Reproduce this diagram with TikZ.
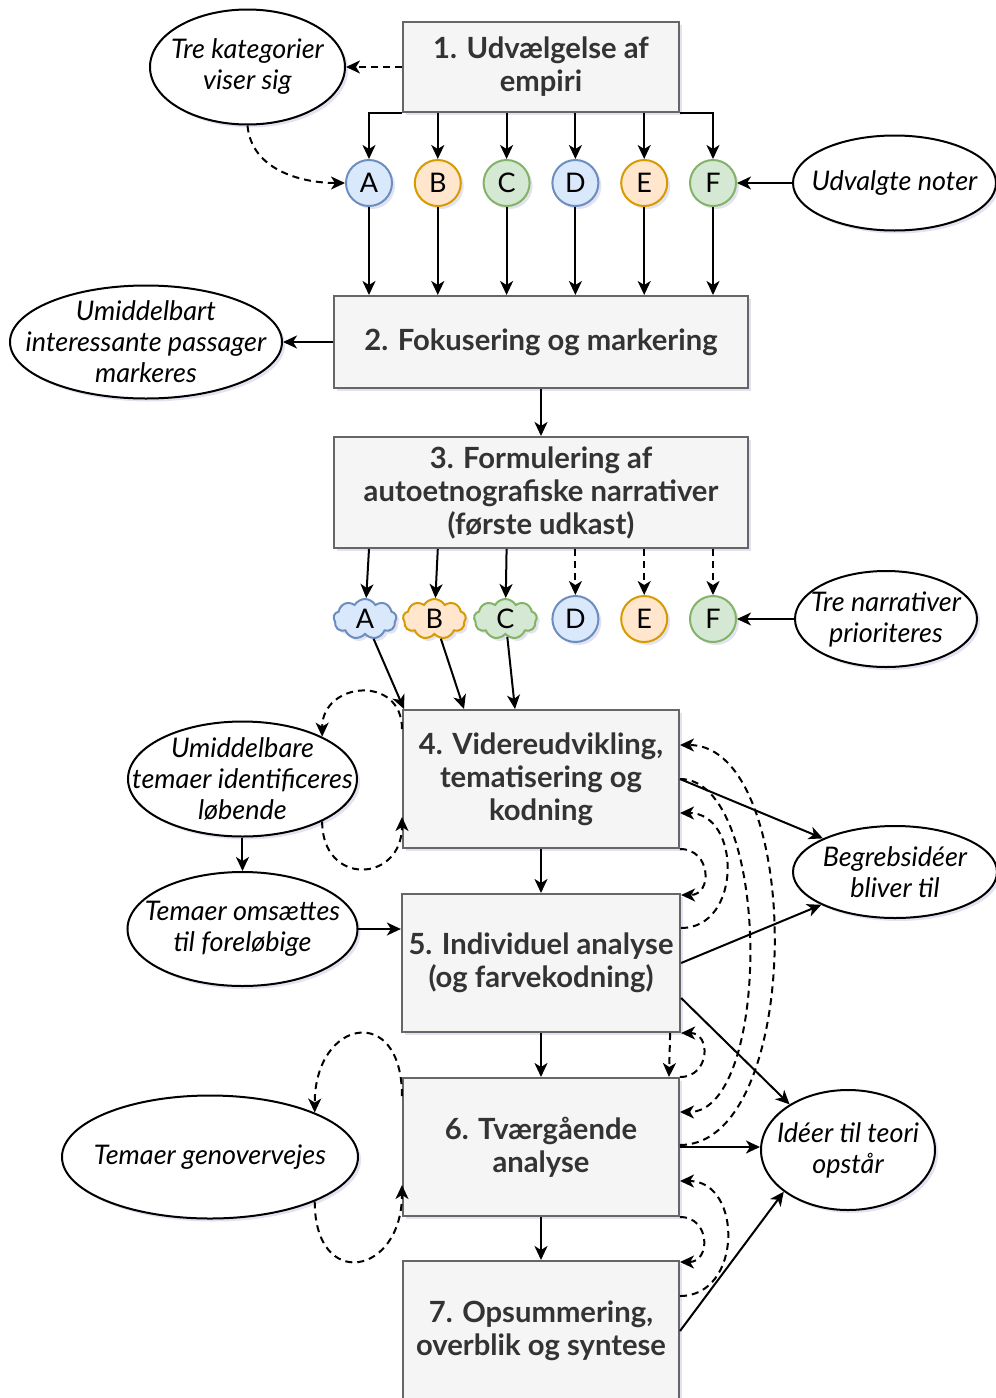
\documentclass[tikz,border=0pt]{standalone}
\usepackage{fontspec}
\setmainfont{Lato}
\usetikzlibrary{shapes, shapes.symbols, arrows.meta, shadows}

\definecolor{boxfill}{HTML}{F5F5F5}
\definecolor{boxline}{HTML}{666666}
\definecolor{boxtext}{HTML}{333333}
\definecolor{bluefill}{HTML}{DAE8FC}
\definecolor{blueline}{HTML}{6C8EBF}
\definecolor{orangefill}{HTML}{FFE6CC}
\definecolor{orangeline}{HTML}{D79B00}
\definecolor{greenfill}{HTML}{D5E8D4}
\definecolor{greenline}{HTML}{82B366}
\definecolor{shadowc}{HTML}{A0A0D0}

\begin{document}
\begin{tikzpicture}[node distance=92pt]
        \tikzstyle{softshadow} = [drop shadow={shadow xshift=1.5pt, shadow yshift=-1.5pt, fill=shadowc, opacity=0.3}]
        \tikzstyle{stepbox} = [rectangle, minimum width=138pt, minimum height=69pt, text centered, align=center, draw=boxline, line width=1pt, fill=boxfill, text=boxtext, font=\fontsize{14.6}{16.5}\selectfont\bfseries, softshadow]
        \tikzstyle{widebox} = [stepbox, minimum width=206.5pt]
        \tikzstyle{note} = [ellipse, inner xsep=-20pt, inner ysep=-12pt, text centered, align=center, draw=black, line width=1pt, fill=white, font=\fontsize{13.5}{15.5}\selectfont\itshape, softshadow]
        \tikzstyle{dot} = [circle, minimum size=23pt, inner sep=0pt, line width=1pt, font=\fontsize{13.5}{15}\selectfont, softshadow]
        \tikzstyle{bluedot} = [dot, draw=blueline, fill=bluefill]
        \tikzstyle{orangedot} = [dot, draw=orangeline, fill=orangefill]
        \tikzstyle{greendot} = [dot, draw=greenline, fill=greenfill]
        \tikzstyle{puff} = [cloud, cloud puffs=9, cloud puff arc=120, aspect=1.6, minimum width=31.5pt, minimum height=20pt, inner sep=0pt, line width=1pt, font=\fontsize{13.5}{15}\selectfont, softshadow]
        \tikzstyle{bluepuff} = [puff, draw=blueline, fill=bluefill]
        \tikzstyle{orangepuff} = [puff, draw=orangeline, fill=orangefill]
        \tikzstyle{greenpuff} = [puff, draw=greenline, fill=greenfill]
        \tikzstyle{singlearrow} = [line width=1pt, ->, >={Stealth[length=7pt, width=6.5pt, inset=2pt]}]
        \tikzstyle{dasharrow} = [singlearrow, dash pattern=on 3.5pt off 2.5pt]

        \useasboundingbox (-270.5pt,33.5pt) rectangle (227.5pt,-665.5pt);

        % main column
        \node (udv) [stepbox, minimum height=45pt]{1. Udvælgelse af\\empiri};
        \node (fok) [widebox, minimum height=46pt, below of=udv, yshift=-45.5pt]{2. Fokusering og markering};
        \node (form) [widebox, minimum height=55.5pt, below of=fok, yshift=16.75pt]{3. Formulering af\\autoetnografiske narrativer\\(første udkast)};
        \node (vid) [stepbox, below of=form, yshift=-51.25pt]{4. Videreudvikling,\\tematisering og\\kodning};
        \node (ind) [stepbox, below of=vid]{5. Individuel analyse\\(og farvekodning)};
        \node (tvg) [stepbox, below of=ind]{6. Tværgående\\analyse};
        \node (ops) [stepbox, minimum height=70pt, below of=tvg]{7. Opsummering,\\overblik og syntese};

        % selected notes
        \node (A1) [bluedot, below of=udv, xshift=-86pt, yshift=34pt]{A};
        \node (B1) [orangedot, node distance=34.4pt, right of=A1]{B};
        \node (C1) [greendot, node distance=34.4pt, right of=B1]{C};
        \node (D1) [bluedot, node distance=34.4pt, right of=C1]{D};
        \node (E1) [orangedot, node distance=34.4pt, right of=D1]{E};
        \node (F1) [greendot, node distance=34.4pt, right of=E1]{F};

        % narratives
        \node (A2) [bluepuff, below of=form, xshift=-88pt, yshift=28.75pt]{A};
        \node (B2) [orangepuff, node distance=34.7pt, right of=A2]{B};
        \node (C2) [greenpuff, node distance=35.5pt, right of=B2]{C};
        \node (D2) [bluedot, node distance=35pt, right of=C2]{D};
        \node (E2) [orangedot, node distance=34.4pt, right of=D2]{E};
        \node (F2) [greendot, node distance=34.4pt, right of=E2]{F};

        % comments
        \node (kat) [note, minimum width=97.5pt, minimum height=57.5pt, node distance=146.75pt, left of=udv]{Tre kategorier\\viser sig};
        \node (noter) [note, minimum width=101.5pt, minimum height=47.5pt, node distance=90.75pt, right of=F1]{Udvalgte noter};
        \node (pass) [note, minimum width=136pt, minimum height=56.5pt, node distance=197.5pt, left of=fok]{Umiddelbart\\interessante passager\\markeres};
        \node (prio) [note, minimum width=91pt, minimum height=48pt, node distance=86.5pt, right of=F2]{Tre narrativer\\prioriteres};
        \node (umid) [note, minimum width=114.5pt, minimum height=57.5pt, node distance=149.25pt, left of=vid]{Umiddelbare\\temaer identificeres\\løbende};
        \node (oms) [note, minimum width=115pt, minimum height=57pt, node distance=75pt, below of=umid]{Temaer omsættes\\til foreløbige};
        \node (genov) [note, minimum width=148pt, minimum height=61.5pt, node distance=165.5pt, left of=tvg, yshift=-5pt]{Temaer genovervejes};
        \node (begreb) [note, minimum width=102pt, minimum height=46pt, node distance=177pt, right of=vid, yshift=-46.5pt]{Begrebsidéer\\bliver til};
        \node (teori) [note, minimum width=87pt, minimum height=60pt, node distance=153.5pt, right of=tvg, yshift=-1.5pt]{Idéer til teori\\opstår};

        % top part
        \draw[dasharrow] (udv.west) -- (kat.east);
        \draw[dasharrow] (kat.south) to[out=-85, in=180] (A1.west);
        \draw[singlearrow] (udv.south west) -| (A1);
        \draw[singlearrow] (udv.south -| B1) -- (B1);
        \draw[singlearrow] (udv.south -| C1) -- (C1);
        \draw[singlearrow] (udv.south -| D1) -- (D1);
        \draw[singlearrow] (udv.south -| E1) -- (E1);
        \draw[singlearrow] (udv.south east) -| (F1);
        \draw[singlearrow] (noter) -- (F1);
        \draw[singlearrow] (A1) -- (A1 |- fok.north);
        \draw[singlearrow] (B1) -- (B1 |- fok.north);
        \draw[singlearrow] (C1) -- (C1 |- fok.north);
        \draw[singlearrow] (D1) -- (D1 |- fok.north);
        \draw[singlearrow] (E1) -- (E1 |- fok.north);
        \draw[singlearrow] (F1) -- (F1 |- fok.north);
        \draw[singlearrow] (fok) -- (pass);
        \draw[singlearrow] (fok) -- (form);
        \draw[singlearrow] (form.south -| A1) -- (A2);
        \draw[singlearrow] (form.south -| B1) -- (B2);
        \draw[singlearrow] (form.south -| C1) -- (C2);
        \draw[dasharrow] (form.south -| D2) -- (D2);
        \draw[dasharrow] (form.south -| E2) -- (E2);
        \draw[dasharrow] (form.south -| F2) -- (F2);
        \draw[singlearrow] (prio) -- (F2);
        \draw[singlearrow] (A2) -- ([xshift=1pt]vid.north west);
        \draw[singlearrow] (B2) -- ([xshift=31pt]vid.north west);
        \draw[singlearrow] (C2) -- ([xshift=56.5pt]vid.north west);

        % analysis part
        \draw[singlearrow] (vid) -- (ind);
        \draw[singlearrow] (ind) -- (tvg);
        \draw[singlearrow] (tvg) -- (ops);
        \draw[singlearrow] (umid) -- (oms);
        \draw[singlearrow] (oms.east) -- (oms.east -| ind.west);
        \draw[dasharrow] ([yshift=-10pt]vid.north west) to[out=90, in=90, looseness=1.75] (umid.28);
        \draw[dasharrow] (umid.-28) to[out=-90, in=-90, looseness=2.1] ([yshift=-19pt]vid.west);
        \draw[dasharrow] ([yshift=-9.5pt]tvg.north west) to[out=90, in=90, looseness=2.7] (genov.23);
        \draw[dasharrow] (genov.-23) to[out=-90, in=-90, looseness=2.6] ([yshift=-19pt]tvg.west);

        \draw[singlearrow] (vid.east) -- (begreb.155);
        \draw[singlearrow] (ind.east) -- (begreb.204);
        \draw[singlearrow] ([yshift=-17.5pt]ind.east) -- (teori.142);
        \draw[singlearrow] (tvg.east) -- (tvg.east -| teori.west);
        \draw[singlearrow] (ops.east) -- (teori.213);
        \draw[dasharrow] ([yshift=1pt]tvg.east) to[out=0, in=0, looseness=0.8] ([yshift=17pt]vid.east);
        \draw[dasharrow] ([yshift=17.5pt]ind.east) to[out=0, in=0, looseness=1.36] ([yshift=-17pt]vid.east);
        \draw[dasharrow] (vid.east) to[out=0, in=0, looseness=0.71] ([yshift=17.5pt]tvg.east);
        \draw[dasharrow] (vid.south east) to[out=0, in=0, looseness=1.75] ([yshift=-1pt]ind.north east);
        \draw[dasharrow] ([xshift=-5.5pt]ind.south east) -- ([xshift=-5.5pt]tvg.north east);
        \draw[dasharrow] (tvg.north east) to[out=0, in=0, looseness=1.75] (ind.south east);
        \draw[dasharrow] (tvg.south east) to[out=0, in=0, looseness=1.75] ([yshift=-1pt]ops.north east);
        \draw[dasharrow] ([yshift=17.5pt]ops.east) to[out=0, in=0, looseness=1.4] ([yshift=-17pt]tvg.east);

    \end{tikzpicture}
\end{document}
